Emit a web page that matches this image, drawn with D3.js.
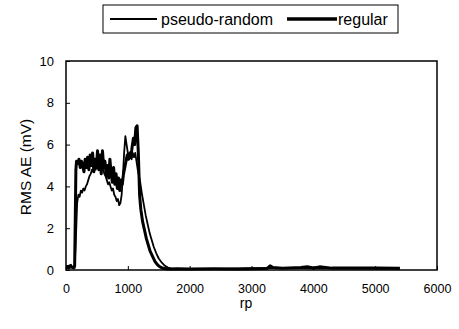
<!DOCTYPE html>
<html><head><meta charset="utf-8">
<script src="https://cdn.jsdelivr.net/npm/d3@7"></script>
<style>body{margin:0;background:#fff}svg{display:block}text{font-family:"Liberation Sans",Arial,sans-serif;fill:#000}</style>
</head><body><svg id="c" width="459" height="329"></svg>
<script>
const seriesNames = ["pseudo-random", "regular"];
const xTicks = [0, 1000, 2000, 3000, 4000, 5000, 6000];
const yTicks = [0, 2, 4, 6, 8, 10];

const regularRp = [0,40,80,120,140,150,160,170,190,210,230,250,270,290,310,330,350,370,390,410,430,450,470,490,510,530,550,570,590,610,630,650,670,690,710,730,750,770,790,810,830,850,870,890,910,930,950,970,990,1010,1030,1050,1070,1090,1110,1130,1150,1170,1190,1210,1240,1270,1300,1330,1360,1400,1440,1480,1520,1570,1650,1800,2000,2400,2800,3250,3300,3350,3500,3800,3900,4000,4100,4300,4600,5000,5400];
const regularVal = [0.15,0.1,0.15,0.1,0.2,2.5,4.8,5.2,5.1,5.3,4.9,5.2,5.0,4.7,5.3,4.9,5.4,4.8,5.5,5.0,5.6,4.7,5.3,4.9,5.7,4.8,5.5,4.6,5.7,4.9,5.2,4.5,5.0,4.4,5.3,4.6,4.2,4.9,4.1,4.6,3.9,4.4,3.8,4.3,4.1,4.6,4.9,5.2,5.5,5.3,5.6,5.4,5.9,6.3,6.0,6.8,6.9,5.6,3.6,2.9,2.3,1.9,1.5,1.2,0.9,0.65,0.4,0.25,0.15,0.08,0.05,0.06,0.05,0.06,0.05,0.07,0.2,0.12,0.08,0.12,0.16,0.1,0.15,0.09,0.1,0.09,0.08];

const pseudoRp = [0,40,80,110,140,160,180,200,220,240,260,280,300,320,340,360,380,400,420,440,460,480,500,520,540,560,580,600,620,640,660,680,700,720,740,760,780,800,820,840,860,880,900,920,940,960,980,1000,1020,1040,1060,1080,1100,1120,1140,1160,1180,1200,1230,1260,1290,1320,1350,1380,1420,1460,1500,1550,1600,1650,1700,1750,1800,2500,3300,4000,5400];
const pseudoVal = [0.2,0.2,0.25,0.1,0.1,1.5,3.2,3.6,3.5,3.8,3.7,3.9,3.8,4.0,4.1,4.3,4.5,4.6,4.8,4.7,4.9,4.8,5.0,4.9,5.1,4.9,5.0,4.8,4.6,4.5,4.3,4.1,4.2,4.0,3.8,3.9,3.6,3.5,3.3,3.4,3.1,3.2,3.6,4.5,5.6,6.4,6.0,5.6,5.3,5.5,5.3,5.6,5.4,5.6,5.2,4.8,4.5,4.2,3.6,3.1,2.6,2.2,1.8,1.5,1.1,0.8,0.55,0.35,0.2,0.12,0.07,0.05,0.04,0.05,0.1,0.08,0.06];

const svg = d3.select("#c");
const L = 66, R = 437, T = 61, B = 270;
const x = d3.scaleLinear().domain([0, 6000]).range([L, R]);
const y = d3.scaleLinear().domain([0, 10]).range([B, T]);

svg.append("rect").attr("x", L).attr("y", T).attr("width", R - L).attr("height", B - T)
  .attr("fill", "none").attr("stroke", "#000").attr("stroke-width", 1.5);

const yAxis = svg.append("g").attr("transform", `translate(${L},0)`)
  .call(d3.axisLeft(y).tickValues(yTicks).tickSize(-4).tickPadding(12).tickFormat(d3.format("d")));
yAxis.select(".domain").remove();
yAxis.selectAll("text").attr("font-size", 13);
const xAxis = svg.append("g").attr("transform", `translate(0,${B})`)
  .call(d3.axisBottom(x).tickValues(xTicks).tickSize(-4).tickPadding(14).tickFormat(d3.format("d")));
xAxis.select(".domain").remove();
xAxis.selectAll("text").attr("font-size", 12.5);

const line = d3.line().x(d => x(d[0])).y(d => y(d[1]));
svg.append("path").datum(pseudoRp.map((r, i) => [r, pseudoVal[i]]))
  .attr("d", line).attr("fill", "none").attr("stroke", "#000").attr("stroke-width", 1.8).attr("stroke-linejoin", "round");
svg.append("path").datum(regularRp.map((r, i) => [r, regularVal[i]]))
  .attr("d", line).attr("fill", "none").attr("stroke", "#000").attr("stroke-width", 3).attr("stroke-linejoin", "round");

svg.append("text").attr("x", 246).attr("y", 308).attr("text-anchor", "middle").attr("font-size", 14).text("rp");
svg.append("text").attr("transform", "translate(31,167) rotate(-90)").attr("text-anchor", "middle").attr("font-size", 15.5).text("RMS AE (mV)");

svg.append("rect").attr("x", 103).attr("y", 5).attr("width", 295).attr("height", 28)
  .attr("fill", "none").attr("stroke", "#000").attr("stroke-width", 1);
svg.append("line").attr("x1", 110).attr("x2", 157).attr("y1", 19).attr("y2", 19).attr("stroke", "#000").attr("stroke-width", 1.8);
svg.append("text").attr("x", 161).attr("y", 25).attr("font-size", 16).text(seriesNames[0]);
svg.append("line").attr("x1", 287).attr("x2", 337).attr("y1", 19).attr("y2", 19).attr("stroke", "#000").attr("stroke-width", 3.5);
svg.append("text").attr("x", 338).attr("y", 25).attr("font-size", 16).text(seriesNames[1]);
</script></body></html>
